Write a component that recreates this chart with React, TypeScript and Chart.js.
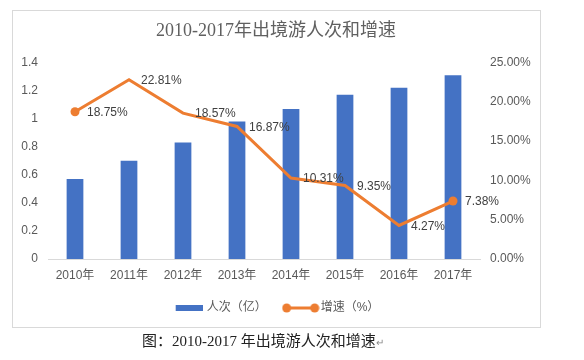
import React, { useEffect, useRef } from 'react';
import { Chart, registerables } from 'chart.js';

Chart.register(...registerables);

const categories = ['2010年', '2011年', '2012年', '2013年', '2014年', '2015年', '2016年', '2017年'];
const visitors = [0.57, 0.70, 0.83, 0.98, 1.07, 1.17, 1.22, 1.31];
const growth = [18.75, 22.81, 18.57, 16.87, 10.31, 9.35, 4.27, 7.38];
const leftMax = 1.4;
const leftStep = 0.2;
const rightMax = 25;
const rightStep = 5;
const barLabel = '人次（亿）';
const lineLabel = '增速（%）';
const titleText = '2010-2017年出境游人次和增速';
const captionText = '图：2010-2017 年出境游人次和增速';

const BLUE = '#4472C4';
const ORANGE = '#ED7D31';
const TICK = '#595959';
const SANS = "'Liberation Sans', 'Noto Sans CJK SC', sans-serif";

function makeBarIcon(): HTMLCanvasElement {
  const c = document.createElement('canvas');
  c.width = 32;
  c.height = 8;
  const g = c.getContext('2d')!;
  g.fillStyle = BLUE;
  g.fillRect(5, 1, 27, 6);
  return c;
}

function makeLineIcon(): HTMLCanvasElement {
  const c = document.createElement('canvas');
  c.width = 38;
  c.height = 10;
  const g = c.getContext('2d')!;
  g.strokeStyle = ORANGE;
  g.lineWidth = 3;
  g.beginPath();
  g.moveTo(5, 5);
  g.lineTo(33, 5);
  g.stroke();
  g.fillStyle = ORANGE;
  [5, 33].forEach((x) => {
    g.beginPath();
    g.arc(x, 5, 4.5, 0, Math.PI * 2);
    g.fill();
  });
  return c;
}

const labelPlugin = {
  id: 'pointLabels',
  afterDatasetsDraw(chart: any) {
    const meta = chart.getDatasetMeta(1);
    const ctx = chart.ctx;
    ctx.save();
    ctx.font = `12px ${SANS}`;
    ctx.fillStyle = '#404040';
    ctx.textBaseline = 'middle';
    ctx.textAlign = 'left';
    meta.data.forEach((pt: any, i: number) => {
      ctx.fillText(growth[i].toFixed(2) + '%', pt.x + 12, pt.y + 1);
    });
    ctx.restore();
  },
};

export default function App() {
  const ref = useRef<HTMLCanvasElement>(null);

  useEffect(() => {
    if (!ref.current) return;
    const barIcon = makeBarIcon();
    const lineIcon = makeLineIcon();
    const last = growth.length - 1;
    const chart = new Chart(ref.current, {
      type: 'bar',
      data: {
        labels: categories,
        datasets: [
          {
            type: 'bar',
            label: barLabel,
            data: visitors,
            backgroundColor: BLUE,
            yAxisID: 'y',
            order: 2,
            barPercentage: 0.31,
            categoryPercentage: 1,
          },
          {
            type: 'line',
            label: lineLabel,
            data: growth,
            borderColor: ORANGE,
            backgroundColor: ORANGE,
            borderWidth: 3,
            tension: 0,
            yAxisID: 'y1',
            order: 1,
            pointRadius: (c: any) => (c.dataIndex === 0 || c.dataIndex === last ? 4.5 : 0),
            pointHoverRadius: 0,
            pointBorderWidth: 0,
          } as any,
        ],
      },
      options: {
        responsive: false,
        animation: false,
        devicePixelRatio: 1,
        layout: { padding: { left: 12, right: 44, top: 10, bottom: 36 } },
        plugins: {
          tooltip: { enabled: false },
          title: {
            display: true,
            text: titleText,
            color: '#606060',
            font: { family: "'Liberation Serif', 'Noto Sans CJK SC', serif", size: 18, weight: 'normal', lineHeight: 1.2 },
            padding: { top: 10, bottom: 21 },
          },
          legend: {
            display: true,
            position: 'bottom',
            labels: {
              usePointStyle: true,
              pointStyleWidth: 28,
              padding: 20,
              color: TICK,
              font: { family: SANS, size: 12 },
              generateLabels: () => [
                { text: barLabel, pointStyle: barIcon, datasetIndex: 0, hidden: false, lineWidth: 0, fontColor: TICK } as any,
                { text: lineLabel, pointStyle: lineIcon, datasetIndex: 1, hidden: false, lineWidth: 0, fontColor: TICK } as any,
              ],
            },
          },
        },
        scales: {
          x: {
            grid: { display: false, drawTicks: false },
            border: { display: true, color: '#d9d9d9', width: 1 },
            ticks: { color: TICK, font: { family: SANS, size: 12 }, padding: 9, maxRotation: 0 },
            afterFit: (s: any) => { s.height = 23; },
          },
          y: {
            position: 'left',
            min: 0,
            max: leftMax,
            grid: { display: false, drawTicks: false },
            border: { display: false },
            ticks: {
              stepSize: leftStep,
              color: TICK,
              font: { family: SANS, size: 12 },
              padding: 10,
              callback: (v: any) => String(Number(Number(v).toFixed(1))),
            },
            afterFit: (s: any) => { s.width = 36; },
          },
          y1: {
            position: 'right',
            min: 0,
            max: rightMax,
            grid: { display: false, drawTicks: false },
            border: { display: false },
            ticks: {
              stepSize: rightStep,
              color: TICK,
              font: { family: SANS, size: 12 },
              padding: 10,
              callback: (v: any) => Number(v).toFixed(2) + '%',
            },
            afterFit: (s: any) => { s.width = 60; },
          },
        },
      } as any,
      plugins: [labelPlugin],
    });
    return () => chart.destroy();
  }, []);

  return (
    <div style={{ position: 'fixed', left: 0, top: 0, width: 584, height: 360, background: '#fff', overflow: 'hidden' }}>
      <div
        style={{
          position: 'absolute',
          left: 12,
          top: 10,
          width: 529,
          height: 318,
          border: '1px solid #d9d9d9',
          boxSizing: 'border-box',
        }}
      />
      <canvas ref={ref} width={584} height={360} style={{ position: 'absolute', left: 0, top: 0, width: 584, height: 360 }} />
      <div
        style={{
          position: 'absolute',
          left: 142,
          top: 332,
          whiteSpace: 'nowrap',
          fontFamily: "'Liberation Serif', 'Noto Sans CJK SC', serif",
          fontSize: 15,
          lineHeight: '19px',
          color: '#222',
        }}
      >
        {captionText}
        <span style={{ fontSize: 10, color: '#888' }}>↵</span>
      </div>
    </div>
  );
}
